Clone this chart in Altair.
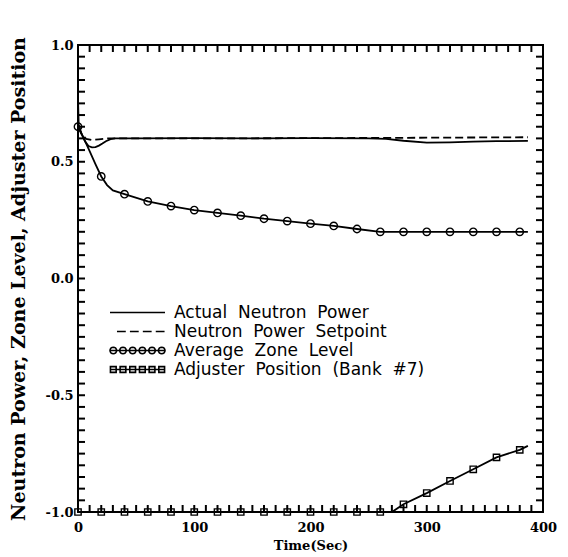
import math
import altair as alt
import pandas as pd

# ---------------- data ----------------
names = [
    "Actual Neutron Power",
    "Neutron Power Setpoint",
    "Average Zone Level",
    "Adjuster Position (Bank #7)",
]

t_actual = [0, 0.6, 3, 6, 9, 12, 15, 18, 21, 24, 28, 32, 50, 100, 150, 200,
            250, 265, 280, 300, 320, 340, 360, 387]
v_actual = [0.77, 0.66, 0.62, 0.588, 0.567, 0.562, 0.563, 0.569, 0.578, 0.588,
            0.597, 0.600, 0.600, 0.601, 0.600, 0.601, 0.600, 0.598, 0.590, 0.582,
            0.583, 0.586, 0.588, 0.589]

t_setpoint = [0, 3, 7, 12, 18, 25, 100, 200, 260, 300, 387]
v_setpoint = [0.65, 0.62, 0.598, 0.593, 0.596, 0.600, 0.600, 0.601, 0.602, 0.603, 0.605]

t_zone = [0, 5, 10, 15, 20, 25, 30, 40, 60, 80, 100, 120, 140, 160, 180, 200, 220,
          240, 260, 280, 300, 320, 340, 360, 380, 387]
v_zone = [0.65, 0.60, 0.545, 0.49, 0.437, 0.40, 0.377, 0.361, 0.330, 0.310, 0.293,
          0.281, 0.269, 0.256, 0.246, 0.235, 0.225, 0.212, 0.200, 0.200, 0.200,
          0.200, 0.200, 0.200, 0.200, 0.200]

t_adj = [0, 20, 40, 60, 80, 100, 120, 140, 160, 180, 200, 220, 240, 260, 270, 280,
         300, 320, 340, 360, 380, 387]
v_adj = [-1.0, -1.0, -1.0, -1.0, -1.0, -1.0, -1.0, -1.0, -1.0, -1.0, -1.0, -1.0,
         -1.0, -1.0, -1.0, -0.967, -0.919, -0.867, -0.817, -0.766, -0.734, -0.717]

x_ticks = list(range(0, 401, 10))
y_ticks = [round(-1 + 0.05 * i, 2) for i in range(41)]

frames = []
for name, ts, vs in zip(names, [t_actual, t_setpoint, t_zone, t_adj],
                        [v_actual, v_setpoint, v_zone, v_adj]):
    frames.append(pd.DataFrame({"t": ts, "v": vs, "series": name}))
df = pd.concat(frames, ignore_index=True)
xt = pd.DataFrame({"t": x_ticks})
yt = pd.DataFrame({"v": y_ticks})

# ---------------- legend symbol paths (unit space) ----------------
def ring(cx, r, n=16):
    pts = [(cx + r * math.cos(2 * math.pi * k / n), r * math.sin(2 * math.pi * k / n))
           for k in range(n)]
    return "M" + " L".join(f"{x:.3f},{y:.3f}" for x, y in pts) + " Z"


def box(cx, h):
    return (f"M{cx - h:.3f},{-h:.3f} L{cx + h:.3f},{-h:.3f} "
            f"L{cx + h:.3f},{h:.3f} L{cx - h:.3f},{h:.3f} Z")


r_leg = 0.6
centers = [-1 + r_leg + k * (10 - 2 * r_leg) / 5 for k in range(6)]
path_solid = "M-1,0 L9,0"
dashes = [(0.27, 1.87), (2.62, 4.22), (4.97, 6.57), (7.32, 8.92)]
path_dash = " ".join(f"M{a},0 L{b},0" for a, b in dashes)
path_zone = path_solid + " " + " ".join(ring(c, r_leg) for c in centers)
path_adj = path_solid + " " + " ".join(box(c, 0.52) for c in centers)

# ---------------- chart ----------------
W, H = 465, 467
TICK = 7
xs = alt.Scale(domain=[0, 400], nice=False, zero=False)
ys = alt.Scale(domain=[-1, 1], nice=False, zero=False)

x_lab = "datum.value % 100 === 0 ? format(datum.value, 'd') : ''"
y_lab = ("abs(datum.value*2 - round(datum.value*2)) < 0.001 ? "
         "(datum.value < -0.001 ? '-' : '') + format(abs(datum.value), '.1f') : ''")

common = dict(ticks=False, domain=False, grid=False, labelOverlap=False, labelFlush=False)

x_axis = alt.Axis(orient="bottom", values=x_ticks, labelExpr=x_lab, labelPadding=9,
                  title="Time(Sec)", titleX=W / 2, titleY=33, titleBaseline="middle",
                  titleAlign="center", titleFontSize=13, **common)
y_axis = alt.Axis(orient="left", values=y_ticks, labelExpr=y_lab, labelPadding=5,
                  title="Neutron Power, Zone Level, Adjuster Position",
                  titleFontSize=19, titleAngle=270, titleX=-60, titleY=H / 2,
                  titleBaseline="middle", titleAlign="center", **common)

X = alt.X("t:Q", scale=xs, axis=x_axis)
Y = alt.Y("v:Q", scale=ys, axis=y_axis)

solid_lines = alt.Chart(df).transform_filter(
    f"datum.series !== '{names[1]}'"
).mark_line(color="black", strokeWidth=1.8).encode(
    x=X, y=Y, detail="series:N", order="t:Q",
)

dashed_line = alt.Chart(df).transform_filter(
    f"datum.series === '{names[1]}'"
).mark_line(color="black", strokeWidth=1.8, strokeDash=[8, 4]).encode(
    x=X, y=Y, order="t:Q",
)

circles = alt.Chart(df).transform_filter(
    f"datum.series === '{names[2]}' && datum.t % 20 === 0"
).mark_point(shape="circle", size=55, filled=False, color="black",
             strokeWidth=1.4, opacity=1).encode(x=X, y=Y)

squares = alt.Chart(df).transform_filter(
    f"datum.series === '{names[3]}' && datum.t % 20 === 0"
).mark_point(shape="square", size=40, filled=False, color="black",
             strokeWidth=1.4, opacity=1).encode(x=X, y=Y)

# inward tick marks on all four sides
tick_style = dict(color="#000000", strokeWidth=2, opacity=1, strokeCap="butt")
ticks_bottom = alt.Chart(xt).mark_rule(**tick_style).encode(
    x=X, y=alt.value(H - TICK), y2=alt.value(H))
ticks_top = alt.Chart(xt).mark_rule(**tick_style).encode(
    x=X, y=alt.value(0), y2=alt.value(TICK))
ticks_left = alt.Chart(yt).mark_rule(**tick_style).encode(
    y=Y, x=alt.value(0), x2=alt.value(TICK))
ticks_right = alt.Chart(yt).mark_rule(**tick_style).encode(
    y=Y, x=alt.value(W - TICK), x2=alt.value(W))

# legend-only layer: no rows survive the filter, the legend comes from the scale domain
legend_layer = alt.Chart(df).transform_filter("datum.t < -1").mark_point(
    filled=False, color="black").encode(
    x=X, y=Y,
    shape=alt.Shape(
        "series:N",
        scale=alt.Scale(domain=names, range=[path_solid, path_dash, path_zone, path_adj]),
        legend=alt.Legend(
            orient="none", legendX=29, legendY=259, title=None,
            labelFont="DejaVu Sans", labelFontSize=17, labelColor="black",
            labelLimit=500, labelOffset=50, rowPadding=1, padding=0,
            symbolSize=121, symbolStrokeWidth=1.6, symbolStrokeColor="black",
            symbolFillColor="transparent", symbolOpacity=1,
            labelExpr="join(split(datum.label, ' '), '\u00a0\u00a0')",
        ),
    ),
)

chart = alt.layer(
    solid_lines, dashed_line, circles, squares,
    ticks_bottom, ticks_top, ticks_left, ticks_right, legend_layer,
).properties(
    width=W, height=H, autosize="none",
    padding={"left": 70, "top": 37, "right": 17, "bottom": 41},
).configure_view(stroke="black", strokeWidth=2).configure_axis(
    labelFont="DejaVu Serif", labelFontWeight="bold", labelFontSize=13,
    labelColor="black",
    titleFont="DejaVu Serif", titleFontWeight="bold", titleColor="black",
)

chart.save("out.html", embed_options={"renderer": "svg", "actions": False})
